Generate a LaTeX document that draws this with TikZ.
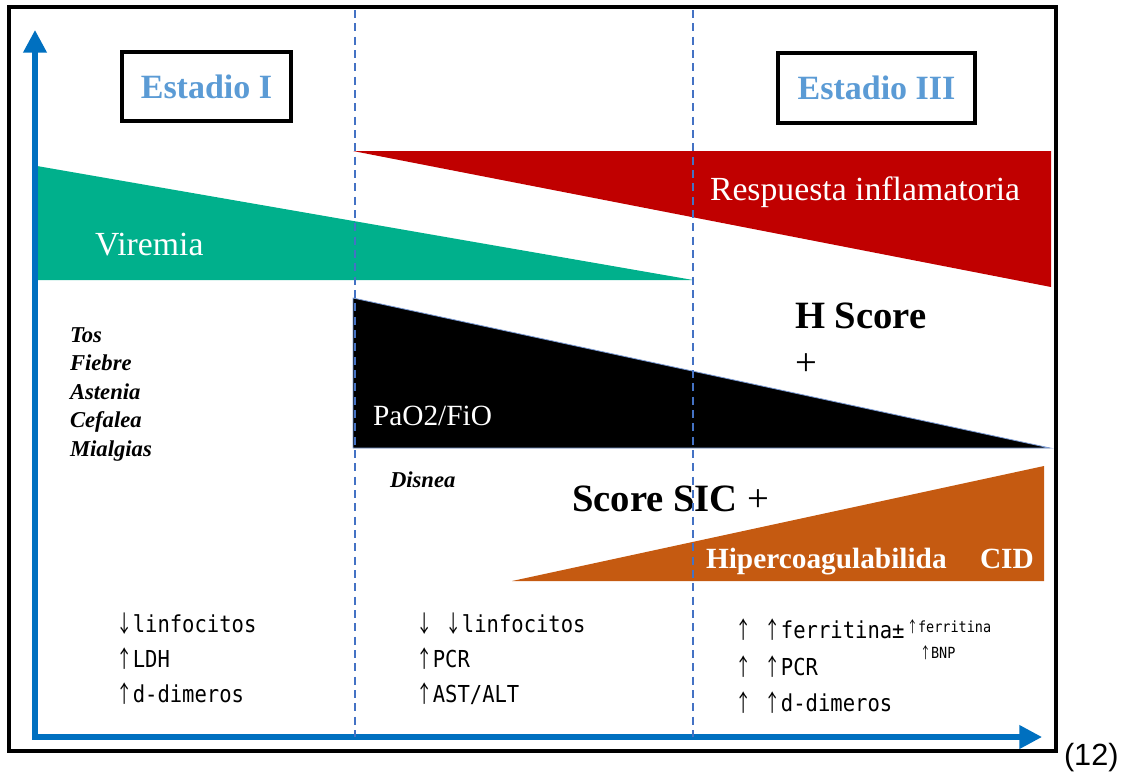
\documentclass[tikz,border=0pt]{standalone}
\usepackage{graphicx}
\usepackage{fontspec}
\setmainfont{Liberation Serif}
\newfontfamily\labfont[FakeStretch=0.88]{DejaVu Sans Mono}
\newfontfamily\arrowfont{Noto Sans CJK JP}
\newfontfamily\capfont{Liberation Sans}
\newcommand\upar{\makebox[0.72em]{\arrowfont\scalebox{0.7}[1]{↑}}}
\newcommand\dnar{\makebox[0.72em]{\arrowfont\scalebox{0.7}[1]{↓}}}
\usetikzlibrary{arrows.meta}
\definecolor{axisblue}{RGB}{0,112,192}
\definecolor{dashblue}{RGB}{68,114,196}
\definecolor{stageblue}{RGB}{91,155,213}
\definecolor{viremiagreen}{RGB}{0,176,140}
\definecolor{inflamred}{RGB}{192,0,0}
\definecolor{coagbrown}{RGB}{197,90,17}

\begin{document}
\begin{tikzpicture}[x=0.75pt, y=-0.75pt,
  every node/.style={inner sep=0pt, outer sep=0pt},
  stagebox/.style={draw, line width=3pt, fill=white, text=stageblue, font=\fontsize{25.5}{30}\selectfont\bfseries},
  bandtext/.style={anchor=base west, text=white, font=\fontsize{25.3}{30}\selectfont},
  scoretext/.style={anchor=base west, font=\fontsize{29}{34}\selectfont\bfseries},
  coagtext/.style={anchor=base west, text=white, font=\fontsize{22}{26}\selectfont\bfseries},
  symptom/.style={anchor=base west, font=\fontsize{17}{21}\selectfont\bfseries\itshape},
  labtext/.style={anchor=base west, font=\labfont\fontsize{17.5}{21}\selectfont},
  smalllab/.style={anchor=base west, font=\labfont\fontsize{11.5}{14}\selectfont},
  stageline/.style={dashblue, line width=1.5pt, dash pattern=on 6pt off 4pt},
  axisline/.style={axisblue, line width=3.8pt, {Triangle[width=17pt, length=17pt]}-{Triangle[width=17pt, length=17pt]}}]
  \useasboundingbox (0,0) rectangle (1123,776);

  \fill[viremiagreen] (37,166) -- (693,280) -- (37,280) -- cycle;
  \fill[inflamred] (353,151) -- (1051,151) -- (1051,287) -- cycle;
  \filldraw[fill=black, draw=dashblue!70, line width=0.6pt] (353,298) -- (1050,448) -- (353,448) -- cycle;
  \fill[coagbrown] (512,581) -- (1044,466) -- (1044,581) -- cycle;

  \node[stagebox, minimum width=126.75pt, minimum height=51.75pt] (stageI) at (206.5,86.5) {Estadio I};
  \node[stagebox, minimum width=147.75pt, minimum height=52.5pt] (stageIII) at (876.5,88) {Estadio III};

  \node[bandtext] (resp) at (710,200) {Respuesta inflamatoria};
  \node[bandtext] (virem) at (95,255) {Viremia};
  \node[bandtext, font=\fontsize{22}{26}\selectfont] (pao) at (373,425) {PaO2/FiO};

  \node[scoretext] (hscore) at (795,328) {H Score};
  \node[scoretext, font=\fontsize{29}{34}\selectfont] (hplus) at (795,375) {+};
  \node[scoretext] (sic) at (572,511) {Score SIC {\mdseries +}};
  \node[coagtext] (hiper) at (706,568) {Hipercoagulabilida};
  \node[coagtext] (cid) at (980,568) {CID};

  \foreach \word [count=\i] in {Tos,Fiebre,Astenia,Cefalea,Mialgias}
    \node[symptom] (sym\i) at (70,{313.5+28.5*\i}) {\word};
  \node[symptom] (disnea) at (390,487) {Disnea};

  \node[labtext] (labIa) at (116,632) {\dnar linfocitos};
  \node[labtext] (labIb) at (116,667) {\upar LDH};
  \node[labtext] (labIc) at (116,702) {\upar d-dimeros};
  \node[labtext] (labIIa) at (416,632) {\dnar{} \dnar linfocitos};
  \node[labtext] (labIIb) at (416,667) {\upar PCR};
  \node[labtext] (labIIc) at (416,702) {\upar AST/ALT};
  \node[labtext] (labIIIa) at (735,638) {\upar{} \upar ferritina±};
  \node[smalllab] (labferr) at (907,632) {\upar ferritina};
  \node[smalllab] (labbnp) at (920,658) {\upar BNP};
  \node[labtext] (labIIIb) at (735,675) {\upar{} \upar PCR};
  \node[labtext] (labIIIc) at (735,711) {\upar{} \upar d-dimeros};

  \coordinate (o) at (35,737);
  \coordinate (ytop) at (35,30);
  \coordinate (xend) at (1042,737);
  \draw[axisline] (ytop) -- (o) -- (xend);

  \draw[stageline] (355,10) -- (355,737);
  \draw[stageline] (693,10) -- (693,737);

  \draw[line width=3.6pt] (9,7) rectangle (1056,751);
  \node[anchor=base west, font=\capfont\fontsize{23}{27}\selectfont] (ref) at (1064,765) {(12)};
\end{tikzpicture}
\end{document}
